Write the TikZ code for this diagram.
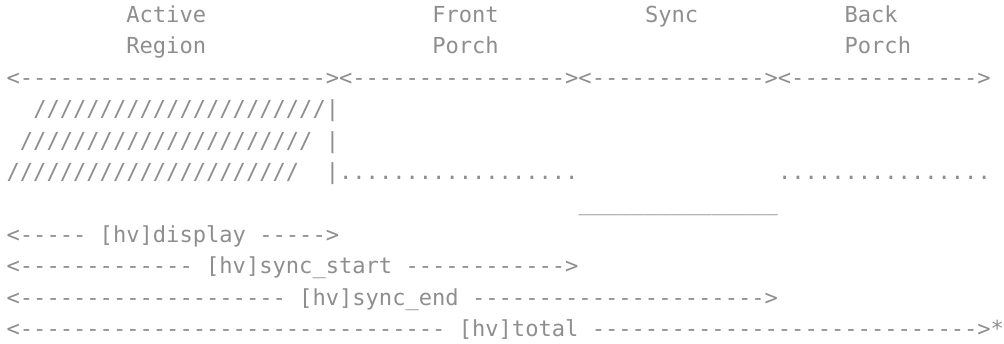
\documentclass[tikz,border=0pt]{standalone}
\usepackage{fontspec}
\setmonofont{DejaVu Sans Mono}
\definecolor{ink}{HTML}{8E8E8E}
\ExplSyntaxOn
\cs_new:Npn \rp #1#2 { \prg_replicate:nn {#1} {#2} }
\ExplSyntaxOff
\tikzset{txt/.style={anchor=base west, inner sep=0pt, outer sep=0pt, text=ink,
  font=\ttfamily\fontsize{22.09}{26}\selectfont}}
\newcommand\cell[4]{\node[txt] (#1) at ({6.65pt+13.3pt*#2}, {-22.5pt-31.4pt*#3}) {#4};}
\begin{document}
\begin{tikzpicture}
\useasboundingbox (0,0) rectangle (1004pt,-344pt);
% headings
\cell{active}{9}{0}{Active}
\cell{front}{32}{0}{Front}
\cell{sync}{48}{0}{Sync}
\cell{back}{63}{0}{Back}
\cell{region}{9}{1}{Region}
\cell{porchA}{32}{1}{Porch}
\cell{porchB}{63}{1}{Porch}
% segment arrows
\cell{segs}{0}{2}{<\rp{23}{-}><\rp{16}{-}><\rp{13}{-}><\rp{14}{-}>}
% hatched active region
\cell{hatchA}{2}{3}{\rp{22}{/}|}
\cell{hatchB}{1}{4}{\rp{22}{/}}
\cell{barB}{24}{4}{|}
\cell{hatchC}{0}{5}{\rp{22}{/}}
\cell{barC}{24}{5}{|\rp{18}{.}}
\cell{dotsR}{58}{5}{\rp{16}{.}}
\cell{pulse}{43}{6}{\rp{15}{\_}}
% timing markers
\cell{disp}{0}{7}{<\rp{5}{-} [hv]display \rp{5}{-}>}
\cell{sstart}{0}{8}{<\rp{13}{-} [hv]sync\_start \rp{12}{-}>}
\cell{send}{0}{9}{<\rp{20}{-} [hv]sync\_end \rp{22}{-}>}
\cell{total}{0}{10}{<\rp{32}{-} [hv]total \rp{29}{-}>*}
\end{tikzpicture}
\end{document}
